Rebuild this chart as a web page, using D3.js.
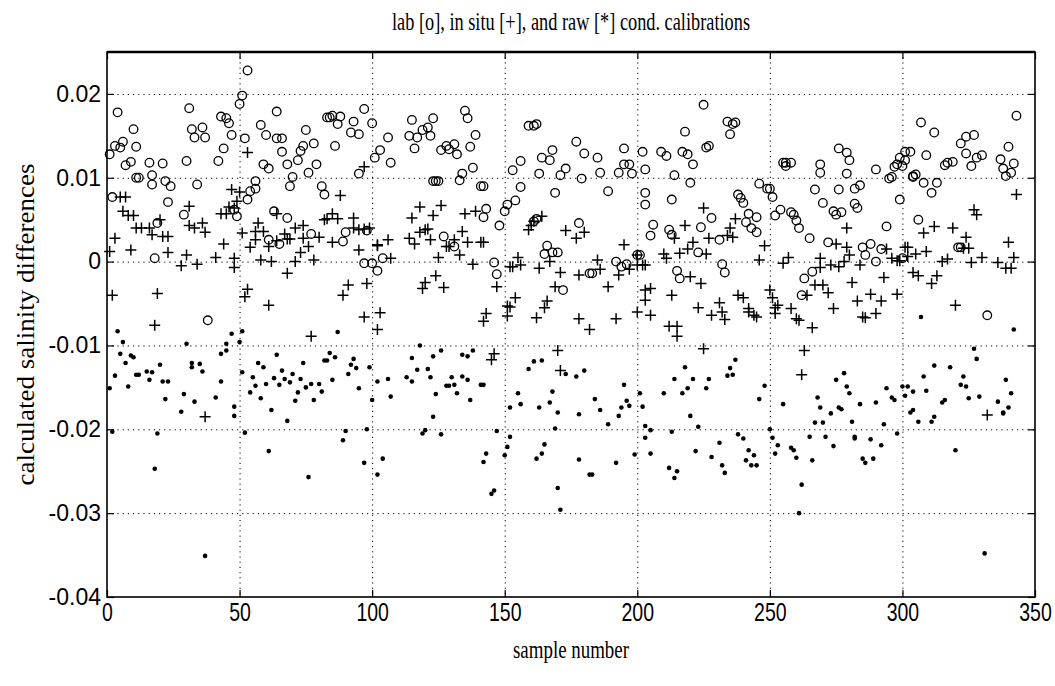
<!DOCTYPE html>
<html>
<head>
<meta charset="utf-8">
<script src="https://cdn.jsdelivr.net/npm/d3@7"></script>
<style>
  body { margin: 0; background: #fff; }
  svg { display: block; }
</style>
</head>
<body>
<div id="chart"></div>
<script>
const xTicks = [0, 50, 100, 150, 200, 250, 300, 350];
const yTicks = [-0.04, -0.03, -0.02, -0.01, 0, 0.01, 0.02];
const yTickLabels = ["-0.04", "-0.03", "-0.02", "-0.01", "0", "0.01", "0.02"];

// [sample number, salinity difference]
const labPoints = [
  [4,.0178],[1,.0128],[3,.0138],[6,.0143],[5,.0136],[10,.0158],[11,.0137],[7,.0115],[9,.0119],[11,.0100],[12,.0100],[16,.0118],[17,.0103],[17,.0092],[21,.0117],[22,.0096],[24,.0090],[23,.0071],[19,.0046],[18,.0004],[2,.0077],[31,.0183],[32,.0158],[33,.0148],[36,.0160],[37,.0148],[30,.0120],[34,.0092],[29,.0056],[38,-.0070],[43,.0173],[45,.0171],[46,.0165],[47,.0151],[44,.0135],[42,.0120],[48,.0062],[49,.0054],[50,.0188],[51,.0198],
  [53,.0228],[52,.0147],[64,.0179],[58,.0163],[60,.0151],[64,.0147],[66,.0147],[66,.0131],[59,.0116],[61,.0111],[68,.0116],[75,.0157],[74,.0138],[73,.0132],[72,.0121],[78,.0141],[76,.0106],[79,.0116],[70,.0101],[69,.0090],[83,.0172],[84,.0172],[85,.0174],[88,.0173],[87,.0164],[86,.0138],[93,.0167],[92,.0154],[95,.0152],[97,.0182],[100,.0165],[101,.0124],[95,.0105],[56,.0096],[56,.0087],[54,.0084],[53,.0074],[63,.0060],[68,.0052],[81,.0090],[82,.0080],[77,.0033],[61,.0026],[65,.0021],[90,.0035],[89,.0024],[98,.0037],[97,-.0002],[102,-.0011],
  [106,.0148],[103,.0133],[107,.0118],[115,.0169],[114,.0150],[117,.0148],[116,.0135],[119,.0157],[121,.0160],[123,.0171],[122,.0150],[126,.0133],[128,.0138],[131,.0140],[129,.0134],[132,.0128],[135,.0180],[136,.0171],[139,.0151],[137,.0137],[138,.0112],[134,.0105],[133,.0097],[123,.0096],[124,.0096],[125,.0096],[141,.0090],[142,.0090],[143,.0063],[142,.0053],[148,.0043],[153,.0109],[151,.0068],[150,.0060],[127,.0030],[131,.0018],[104,.0004],[100,-.0002],[146,-.0001],[147,-.0015],
  [159,.0162],[161,.0162],[162,.0164],[156,.0120],[156,.0089],[154,.0073],[164,.0124],[167,.0121],[168,.0133],[163,.0105],[171,.0103],[173,.0111],[169,.0082],[177,.0143],[180,.0129],[185,.0124],[179,.0099],[186,.0106],[189,.0084],[195,.0135],[195,.0116],[197,.0116],[193,.0106],[198,.0105],[202,.0131],[203,.0110],[203,.0082],[203,.0068],[162,.0051],[161,.0048],[178,.0046],[166,.0019],[165,.0009],[168,.0011],[170,.0011],[172,-.0034],[182,-.0014],[183,-.0014],[192,.0000],[196,-.0003],[194,-.0006],[200,.0008],[201,.0008],
  [225,.0187],[218,.0155],[235,.0152],[237,.0166],[236,.0164],[234,.0167],[209,.0131],[211,.0126],[217,.0131],[219,.0128],[221,.0116],[227,.0138],[226,.0136],[214,.0103],[220,.0094],[213,.0074],[246,.0093],[249,.0087],[250,.0087],[251,.0077],[238,.0080],[239,.0076],[240,.0070],[242,.0057],[245,.0053],[241,.0047],[243,.0040],[245,.0035],[254,.0062],[252,.0055],[206,.0044],[205,.0031],[212,.0038],[213,.0032],[228,.0052],[224,.0041],[223,.0011],[231,.0026],[215,-.0011],[216,-.0020],[232,-.0003],[233,-.0013],
  [255,.0118],[256,.0118],[258,.0118],[256,.0114],[269,.0116],[269,.0106],[276,.0135],[279,.0130],[280,.0121],[279,.0105],[290,.0110],[297,.0113],[298,.0116],[300,.0114],[301,.0131],[303,.0131],[295,.0099],[296,.0101],[304,.0101],[267,.0086],[270,.0070],[276,.0086],[282,.0087],[284,.0091],[282,.0069],[283,.0064],[274,.0060],[275,.0056],[277,.0059],[299,.0074],[258,.0059],[259,.0056],[260,.0049],[261,.0040],[265,.0028],[294,.0042],[272,.0023],[285,.0017],[286,.0008],[288,.0021],[292,.0015],[290,.0000],[266,-.0012],[263,-.0020],[262,-.0040],
  [343,.0174],[307,.0166],[312,.0154],[327,.0151],[324,.0149],[322,.0141],[324,.0129],[328,.0124],[330,.0127],[326,.0114],[319,.0119],[317,.0118],[316,.0115],[309,.0127],[340,.0137],[337,.0122],[338,.0111],[342,.0117],[341,.0106],[339,.0102],[299,.0124],[301,.0121],[304,.0102],[305,.0104],[308,.0094],[313,.0094],[311,.0082],[306,.0050],[321,.0017],[322,.0017],[332,-.0064],[300,.0004]
];

const inSituPoints = [
  [5,.0077],[7,.0077],[6,.0060],[8,.0055],[10,.0055],[11,.0040],[13,.0040],[16,.0040],[17,.0032],[20,.0050],[21,.0030],[23,.0030],[23,.0011],[3,.0028],[1,.0012],[9,.0014],[2,-.0040],[19,-.0038],[18,-.0076],[31,.0066],[31,.0043],[33,.0040],[36,.0046],[37,.0035],[30,.0008],[28,-.0005],[34,-.0003],[44,.0021],[41,.0005],[48,.0004],[48,-.0007],[37,-.0185],[46,.0065],[45,.0057],[43,.0057],[47,.0086],[50,.0083],[49,.0072],[48,.0064],[51,.0034],
  [53,.0130],[57,.0046],[59,.0036],[56,.0036],[56,.0026],[54,.0017],[58,.0002],[62,.0000],[61,.0018],[64,.0057],[67,.0033],[68,.0027],[69,.0027],[64,.0025],[71,.0040],[74,.0043],[74,.0028],[73,.0011],[71,.0000],[76,.0018],[78,.0002],[68,-.0014],[61,-.0052],[53,-.0033],[52,-.0042],[77,-.0089],[80,.0029],[82,.0050],[83,.0051],[85,.0057],[87,.0051],[85,.0023],[88,.0079],[93,.0052],[93,.0040],[95,.0038],[97,.0039],[99,.0040],[95,.0014],[97,.0113],[102,.0019],[91,-.0028],[89,-.0040],[98,-.0026],[97,-.0066],
  [102,.0020],[106,.0026],[107,.0004],[115,.0052],[118,.0065],[123,.0055],[126,.0067],[114,.0028],[116,.0021],[118,.0035],[120,.0038],[121,.0039],[122,.0026],[125,.0005],[128,.0018],[129,.0018],[131,.0026],[133,.0008],[134,.0036],[135,.0057],[139,.0060],[136,.0023],[141,.0023],[142,.0023],[138,-.0003],[119,-.0032],[120,-.0025],[124,-.0017],[127,-.0031],[103,-.0061],[102,-.0081],[147,-.0030],[143,-.0062],[142,-.0071],[145,-.0117],[146,-.0110],[151,-.0053],[152,-.0006],
  [159,.0038],[161,.0048],[160,.0043],[164,.0054],[173,.0037],[177,.0028],[180,.0035],[195,.0020],[155,.0005],[153,-.0006],[156,-.0004],[163,-.0008],[167,.0000],[171,-.0013],[178,-.0016],[185,.0002],[186,-.0009],[193,-.0016],[197,-.0009],[200,-.0004],[203,-.0004],[169,-.0030],[189,-.0030],[154,-.0043],[152,-.0054],[151,-.0065],[162,-.0067],[165,-.0055],[166,-.0047],[178,-.0068],[182,-.0081],[192,-.0068],[200,-.0060],[170,-.0106],[171,-.0130],
  [200,.0008],[202,-.0004],[210,.0009],[211,.0004],[216,.0010],[219,.0015],[221,.0023],[226,.0009],[227,.0028],[218,.0043],[214,.0028],[225,.0064],[237,.0051],[235,.0040],[236,.0029],[234,.0031],[248,.0019],[246,.0002],[220,-.0018],[224,-.0026],[205,-.0032],[203,-.0034],[203,-.0046],[205,-.0064],[213,-.0040],[223,-.0055],[228,-.0064],[231,-.0049],[232,-.0060],[233,-.0069],[238,-.0040],[240,-.0043],[242,-.0056],[244,-.0064],[245,-.0066],[242,-.0060],[212,-.0077],[215,-.0077],[215,-.0089],[250,-.0034],[251,-.0043],[253,-.0052],[225,-.0104],
  [279,.0040],[301,.0017],[302,.0017],[294,.0015],[275,.0021],[279,.0017],[280,.0008],[255,-.0002],[257,.0005],[269,.0004],[269,-.0007],[273,-.0004],[276,-.0006],[278,.0000],[284,-.0004],[296,.0004],[298,.0001],[299,.0001],[302,.0006],[304,-.0013],[293,-.0019],[298,-.0039],[292,-.0047],[288,-.0039],[290,-.0062],[286,-.0067],[285,-.0066],[281,-.0025],[283,-.0047],[274,-.0056],[272,-.0037],[270,-.0028],[267,-.0028],[264,-.0040],[252,-.0055],[252,-.0062],[258,-.0056],[261,-.0070],[260,-.0068],[266,-.0079],[263,-.0106],[262,-.0135],
  [343,.0080],[327,.0062],[328,.0056],[308,.0034],[312,.0042],[319,.0040],[324,.0029],[340,.0023],[305,.0009],[309,.0012],[315,.0000],[317,.0003],[323,.0016],[325,.0016],[326,-.0001],[330,.0005],[336,-.0001],[339,-.0008],[341,-.0008],[342,.0005],[306,-.0017],[311,-.0026],[313,-.0017],[320,-.0052],[332,-.0183]
];

const rawPoints = [
  [4,-.0083],[6,-.0096],[5,-.0110],[9,-.0112],[10,-.0114],[7,-.0121],[3,-.0136],[1,-.0151],[8,-.0149],[11,-.0135],[12,-.0135],[15,-.0131],[17,-.0132],[16,-.0141],[20,-.0123],[21,-.0143],[23,-.0143],[22,-.0164],[18,-.0247],[19,-.0205],[2,-.0203],[30,-.0098],[32,-.0121],[35,-.0122],[32,-.0126],[36,-.0131],[29,-.0158],[28,-.0179],[33,-.0167],[37,-.0351],[43,-.0143],[41,-.0162],[43,-.0110],[45,-.0106],[45,-.0098],[47,-.0086],[50,-.0096],[51,-.0083],[48,-.0184],[48,-.0173],[51,-.0132],
  [57,-.0121],[59,-.0126],[64,-.0111],[55,-.0138],[56,-.0148],[54,-.0156],[58,-.0163],[60,-.0146],[62,-.0177],[63,-.0139],[65,-.0147],[66,-.0130],[67,-.0140],[69,-.0144],[70,-.0134],[68,-.0190],[71,-.0166],[72,-.0156],[73,-.0140],[74,-.0121],[75,-.0150],[77,-.0146],[78,-.0165],[80,-.0146],[81,-.0155],[82,-.0118],[83,-.0118],[84,-.0109],[86,-.0114],[85,-.0141],[87,-.0084],[91,-.0134],[92,-.0123],[94,-.0127],[93,-.0116],[95,-.0151],[99,-.0126],[100,-.0165],[102,-.0143],[52,-.0204],[61,-.0226],[76,-.0257],[89,-.0213],[90,-.0202],[98,-.0200],[97,-.0240],[102,-.0254],
  [106,-.0140],[107,-.0161],[104,-.0235],[113,-.0138],[115,-.0143],[115,-.0115],[117,-.0129],[118,-.0100],[121,-.0128],[122,-.0138],[123,-.0113],[126,-.0106],[124,-.0158],[123,-.0185],[119,-.0205],[120,-.0201],[126,-.0206],[128,-.0148],[129,-.0148],[131,-.0147],[130,-.0138],[132,-.0157],[134,-.0137],[136,-.0141],[134,-.0111],[136,-.0113],[137,-.0165],[138,-.0106],[141,-.0147],[142,-.0147],[147,-.0202],[143,-.0229],[142,-.0239],[145,-.0277],[146,-.0273],[152,-.0174],[152,-.0209],[151,-.0221],[150,-.0231],
  [159,-.0128],[161,-.0119],[164,-.0118],[173,-.0134],[177,-.0137],[180,-.0130],[155,-.0157],[156,-.0170],[163,-.0174],[167,-.0168],[168,-.0155],[170,-.0180],[178,-.0182],[184,-.0164],[186,-.0177],[189,-.0194],[193,-.0184],[194,-.0174],[195,-.0147],[196,-.0166],[197,-.0172],[201,-.0157],[202,-.0173],[169,-.0199],[162,-.0235],[164,-.0229],[165,-.0218],[178,-.0236],[182,-.0254],[183,-.0254],[192,-.0240],[199,-.0230],[170,-.0270],[171,-.0296],[203,-.0210],[203,-.0196],
  [218,-.0126],[214,-.0140],[221,-.0140],[210,-.0157],[219,-.0151],[217,-.0157],[226,-.0151],[227,-.0140],[234,-.0136],[235,-.0127],[236,-.0135],[237,-.0117],[220,-.0184],[223,-.0197],[205,-.0201],[205,-.0229],[213,-.0203],[212,-.0246],[215,-.0250],[214,-.0258],[222,-.0226],[228,-.0233],[231,-.0216],[232,-.0243],[233,-.0252],[238,-.0206],[240,-.0211],[242,-.0225],[241,-.0237],[243,-.0243],[245,-.0243],[244,-.0231],[248,-.0148],[246,-.0164],[250,-.0200],[251,-.0210],[252,-.0229],[253,-.0219],
  [255,-.0170],[278,-.0133],[275,-.0141],[279,-.0149],[280,-.0157],[268,-.0162],[269,-.0174],[273,-.0181],[276,-.0174],[277,-.0176],[267,-.0192],[270,-.0192],[281,-.0191],[284,-.0170],[290,-.0168],[293,-.0194],[294,-.0151],[296,-.0162],[297,-.0165],[301,-.0160],[302,-.0149],[300,-.0149],[298,-.0205],[303,-.0180],[258,-.0222],[259,-.0225],[260,-.0234],[265,-.0209],[266,-.0237],[271,-.0209],[274,-.0220],[282,-.0209],[282,-.0211],[288,-.0212],[292,-.0219],[285,-.0235],[286,-.0240],[289,-.0235],[262,-.0266],[261,-.0300],
  [307,-.0066],[342,-.0081],[327,-.0104],[328,-.0116],[312,-.0124],[318,-.0126],[308,-.0137],[323,-.0137],[304,-.0155],[309,-.0154],[322,-.0147],[324,-.0149],[325,-.0163],[329,-.0161],[336,-.0167],[339,-.0141],[341,-.0157],[316,-.0165],[315,-.0168],[304,-.0177],[306,-.0191],[311,-.0191],[312,-.0185],[338,-.0180],[338,-.0181],[340,-.0174],[320,-.0225],[331,-.0348]
];

const width = 1055, height = 686;
const margin = {top: 52, right: 20, bottom: 89, left: 107};
const w = width - margin.left - margin.right;
const h = height - margin.top - margin.bottom;

const x = d3.scaleLinear().domain([0, 350]).range([0, w]);
const y = d3.scaleLinear().domain([-0.04, 0.025]).range([h, 0]);

const svg = d3.select('#chart').append('svg')
    .attr('width', width)
    .attr('height', height);
svg.append('rect').attr('width', width).attr('height', height).attr('fill', '#fff');

const g = svg.append('g')
    .attr('transform', `translate(${margin.left},${margin.top})`);

// dotted grid
const grid = g.append('g').attr('class', 'grid');
grid.append('g').call(
    d3.axisBottom(x).tickValues(xTicks.slice(1, -1)).tickFormat('').tickSize(h)
);
grid.append('g').call(
    d3.axisLeft(y).tickValues(yTicks.slice(1)).tickFormat('').tickSize(-w)
);
grid.selectAll('.domain').remove();
grid.selectAll('line')
    .attr('stroke', '#000')
    .attr('stroke-width', 1)
    .attr('stroke-dasharray', '1.2,4');

// markers
const marks = g.append('g');
marks.selectAll('circle.lab').data(labPoints).join('circle')
    .attr('class', 'lab')
    .attr('cx', d => x(d[0]))
    .attr('cy', d => y(d[1]))
    .attr('r', 4.3)
    .attr('fill', 'none')
    .attr('stroke', '#000')
    .attr('stroke-width', 1.3);

marks.selectAll('path.insitu').data(inSituPoints).join('path')
    .attr('class', 'insitu')
    .attr('transform', d => `translate(${x(d[0])},${y(d[1])})`)
    .attr('d', 'M-5.5,0H5.5M0,-5.5V5.5')
    .attr('stroke', '#000')
    .attr('stroke-width', 1.5);

marks.selectAll('circle.raw').data(rawPoints).join('circle')
    .attr('class', 'raw')
    .attr('cx', d => x(d[0]))
    .attr('cy', d => y(d[1]))
    .attr('r', 2.3)
    .attr('fill', '#000');

// frame
g.append('rect')
    .attr('width', w)
    .attr('height', h)
    .attr('fill', 'none')
    .attr('stroke', '#000')
    .attr('stroke-width', 1.6);
g.append('line')
    .attr('x1', 0).attr('x2', w)
    .attr('stroke', '#000')
    .attr('stroke-width', 2.4);

// axes with inward ticks
const tickFont = '"Liberation Sans", Arial, sans-serif';
const xAxis = g.append('g')
    .attr('transform', `translate(0,${h})`)
    .call(d3.axisBottom(x).tickValues(xTicks).tickSizeInner(-7).tickSizeOuter(0).tickPadding(6));
xAxis.selectAll('text')
    .attr('font-family', tickFont)
    .attr('font-size', 26)
    .attr('transform', 'scale(0.75,1)');

const yAxis = g.append('g')
    .call(d3.axisLeft(y).tickValues(yTicks).tickFormat((d, i) => yTickLabels[i]).tickSizeInner(-7).tickSizeOuter(0).tickPadding(6));
yAxis.selectAll('text')
    .attr('font-family', tickFont)
    .attr('font-size', 23);

g.append('g')
    .call(d3.axisTop(x).tickValues(xTicks).tickFormat('').tickSizeInner(-7).tickSizeOuter(0));
g.append('g')
    .attr('transform', `translate(${w},0)`)
    .call(d3.axisRight(y).tickValues(yTicks).tickFormat('').tickSizeInner(-7).tickSizeOuter(0));

g.selectAll('.domain').filter(function() { return !this.closest('.grid'); }).remove();
g.selectAll('.tick line').filter(function() { return !this.closest('.grid'); })
    .attr('stroke', '#000')
    .attr('stroke-width', 1.2);

// titles
const serif = '"Liberation Serif", "DejaVu Serif", serif';
svg.append('text')
    .attr('x', margin.left + w / 2)
    .attr('y', 30)
    .attr('text-anchor', 'middle')
    .attr('font-family', serif)
    .attr('font-size', 25)
    .attr('textLength', 358)
    .attr('lengthAdjust', 'spacingAndGlyphs')
    .text('lab [o], in situ [+], and raw [*] cond. calibrations');

svg.append('text')
    .attr('x', margin.left + w / 2)
    .attr('y', 658)
    .attr('text-anchor', 'middle')
    .attr('font-family', serif)
    .attr('font-size', 25)
    .attr('textLength', 116)
    .attr('lengthAdjust', 'spacingAndGlyphs')
    .text('sample number');

svg.append('text')
    .attr('transform', `translate(34,${margin.top + h / 2}) rotate(-90)`)
    .attr('text-anchor', 'middle')
    .attr('font-family', serif)
    .attr('font-size', 25)
    .attr('textLength', 322)
    .attr('lengthAdjust', 'spacingAndGlyphs')
    .text('calculated salinity differences');
</script>
</body>
</html>
